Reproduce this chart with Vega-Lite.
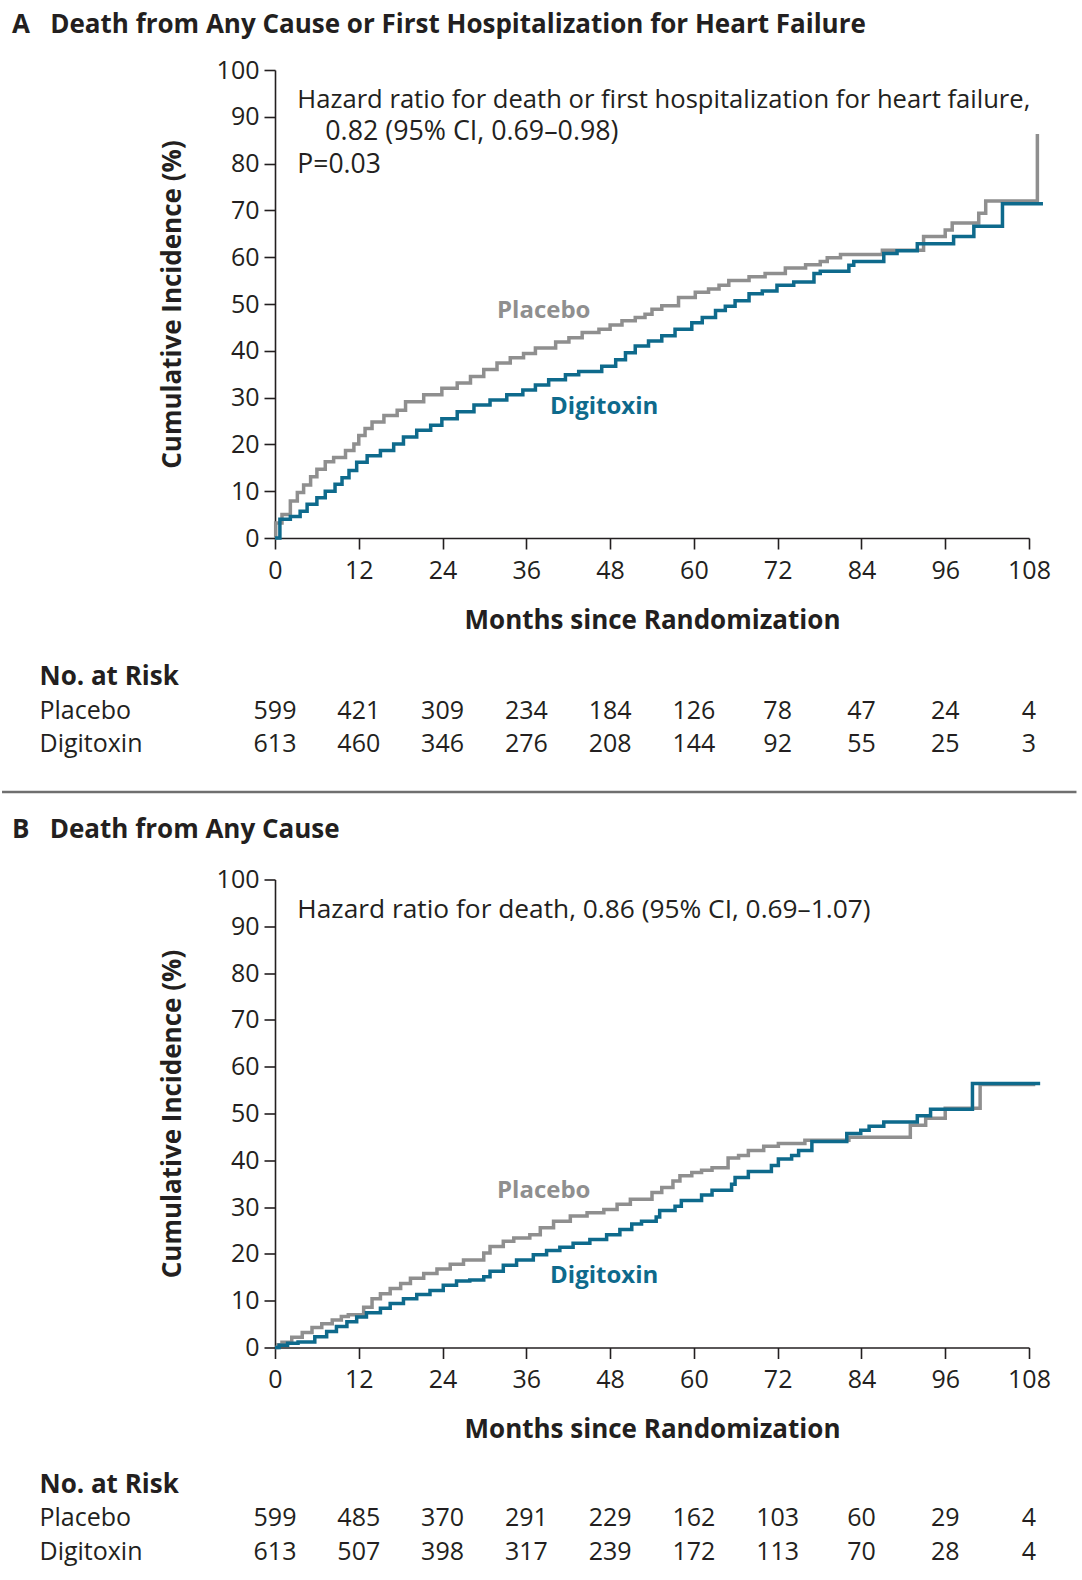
{
  "$schema": "https://vega.github.io/schema/vega-lite/v6.json",
  "background": "white",
  "padding": {"left": 0, "top": 12, "right": 5, "bottom": 0},
  "spacing": 7.75,
  "config": {
    "font": "Open Sans",
    "view": {"stroke": null},
    "axis": {
      "domainColor": "#231f20", "tickColor": "#231f20", "labelColor": "#231f20", "titleColor": "#231f20",
      "domainWidth": 1.6, "tickWidth": 1.6, "tickSize": 11, "grid": false,
      "labelFont": "Open Sans", "titleFont": "Open Sans", "labelFontSize": 25, "titleFontSize": 26, "titleFontWeight": "bold"
    },
    "title": {"font": "Open Sans"},
    "text": {"font": "Open Sans"}
  },
  "datasets": {
    "kmA": [
      {"group":"Placebo","month":0,"pct":0},{"group":"Placebo","month":0.1,"pct":3.2},{"group":"Placebo","month":1.0,"pct":5.0},{"group":"Placebo","month":2.2,"pct":7.9},{"group":"Placebo","month":3.2,"pct":9.7},{"group":"Placebo","month":4.1,"pct":11.3},{"group":"Placebo","month":5.1,"pct":13.1},{"group":"Placebo","month":6.0,"pct":14.7},{"group":"Placebo","month":7.2,"pct":16.3},{"group":"Placebo","month":8.4,"pct":17.2},{"group":"Placebo","month":10.1,"pct":18.7},{"group":"Placebo","month":11.3,"pct":20.1},{"group":"Placebo","month":12.0,"pct":21.9},{"group":"Placebo","month":12.9,"pct":23.4},{"group":"Placebo","month":13.9,"pct":24.8},{"group":"Placebo","month":15.6,"pct":26.2},{"group":"Placebo","month":17.5,"pct":27.3},{"group":"Placebo","month":18.7,"pct":29.1},{"group":"Placebo","month":21.3,"pct":30.6},{"group":"Placebo","month":23.9,"pct":32.0},{"group":"Placebo","month":26.1,"pct":33.1},{"group":"Placebo","month":28.0,"pct":34.5},{"group":"Placebo","month":29.9,"pct":36.0},{"group":"Placebo","month":31.8,"pct":37.4},{"group":"Placebo","month":33.7,"pct":38.5},{"group":"Placebo","month":35.6,"pct":39.4},{"group":"Placebo","month":37.3,"pct":40.6},{"group":"Placebo","month":40.2,"pct":41.9},{"group":"Placebo","month":42.1,"pct":42.8},{"group":"Placebo","month":44.0,"pct":43.9},{"group":"Placebo","month":46.4,"pct":44.6},{"group":"Placebo","month":48.0,"pct":45.5},{"group":"Placebo","month":49.7,"pct":46.4},{"group":"Placebo","month":51.6,"pct":47.1},{"group":"Placebo","month":53.0,"pct":47.8},{"group":"Placebo","month":54.0,"pct":48.9},{"group":"Placebo","month":55.4,"pct":49.6},{"group":"Placebo","month":57.8,"pct":51.4},{"group":"Placebo","month":60.2,"pct":52.5},{"group":"Placebo","month":62.1,"pct":53.2},{"group":"Placebo","month":63.6,"pct":54.0},{"group":"Placebo","month":65.0,"pct":55.0},{"group":"Placebo","month":67.9,"pct":55.8},{"group":"Placebo","month":70.2,"pct":56.5},{"group":"Placebo","month":73.1,"pct":57.7},{"group":"Placebo","month":76.0,"pct":58.4},{"group":"Placebo","month":78.1,"pct":59.1},{"group":"Placebo","month":79.1,"pct":59.9},{"group":"Placebo","month":81.0,"pct":60.6},{"group":"Placebo","month":87.0,"pct":61.5},{"group":"Placebo","month":92.9,"pct":64.4},{"group":"Placebo","month":96.0,"pct":65.8},{"group":"Placebo","month":97.0,"pct":67.3},{"group":"Placebo","month":100.8,"pct":69.4},{"group":"Placebo","month":101.8,"pct":72.0},{"group":"Placebo","month":109.2,"pct":86.3},
      {"group":"Digitoxin","month":0,"pct":0},{"group":"Digitoxin","month":0.7,"pct":4.0},{"group":"Digitoxin","month":2.2,"pct":4.6},{"group":"Digitoxin","month":3.6,"pct":5.7},{"group":"Digitoxin","month":4.6,"pct":7.2},{"group":"Digitoxin","month":6.0,"pct":8.6},{"group":"Digitoxin","month":7.2,"pct":10.0},{"group":"Digitoxin","month":8.6,"pct":11.5},{"group":"Digitoxin","month":9.6,"pct":12.9},{"group":"Digitoxin","month":10.6,"pct":14.4},{"group":"Digitoxin","month":11.7,"pct":16.2},{"group":"Digitoxin","month":13.2,"pct":17.6},{"group":"Digitoxin","month":15.1,"pct":18.7},{"group":"Digitoxin","month":17.0,"pct":20.1},{"group":"Digitoxin","month":18.4,"pct":21.6},{"group":"Digitoxin","month":20.3,"pct":23.0},{"group":"Digitoxin","month":22.3,"pct":24.1},{"group":"Digitoxin","month":23.9,"pct":25.5},{"group":"Digitoxin","month":26.1,"pct":27.0},{"group":"Digitoxin","month":28.5,"pct":28.4},{"group":"Digitoxin","month":30.8,"pct":29.5},{"group":"Digitoxin","month":33.2,"pct":30.6},{"group":"Digitoxin","month":35.5,"pct":31.6},{"group":"Digitoxin","month":37.3,"pct":32.7},{"group":"Digitoxin","month":39.2,"pct":33.8},{"group":"Digitoxin","month":41.6,"pct":34.9},{"group":"Digitoxin","month":43.5,"pct":35.6},{"group":"Digitoxin","month":46.8,"pct":36.7},{"group":"Digitoxin","month":48.8,"pct":38.1},{"group":"Digitoxin","month":50.2,"pct":39.6},{"group":"Digitoxin","month":51.6,"pct":41.0},{"group":"Digitoxin","month":53.5,"pct":42.1},{"group":"Digitoxin","month":55.4,"pct":43.2},{"group":"Digitoxin","month":57.3,"pct":44.6},{"group":"Digitoxin","month":59.7,"pct":46.0},{"group":"Digitoxin","month":61.2,"pct":47.1},{"group":"Digitoxin","month":63.1,"pct":48.6},{"group":"Digitoxin","month":64.5,"pct":49.5},{"group":"Digitoxin","month":65.9,"pct":50.7},{"group":"Digitoxin","month":67.9,"pct":52.2},{"group":"Digitoxin","month":69.8,"pct":52.8},{"group":"Digitoxin","month":71.9,"pct":54.0},{"group":"Digitoxin","month":74.3,"pct":54.7},{"group":"Digitoxin","month":77.2,"pct":56.5},{"group":"Digitoxin","month":78.1,"pct":57.0},{"group":"Digitoxin","month":82.2,"pct":58.3},{"group":"Digitoxin","month":82.9,"pct":59.1},{"group":"Digitoxin","month":87.2,"pct":60.8},{"group":"Digitoxin","month":89.1,"pct":61.4},{"group":"Digitoxin","month":92.0,"pct":62.9},{"group":"Digitoxin","month":97.2,"pct":64.4},{"group":"Digitoxin","month":100.1,"pct":66.6},{"group":"Digitoxin","month":104.2,"pct":71.4},{"group":"Digitoxin","month":110.0,"pct":71.4}
    ],
    "kmB": [
      {"group":"Placebo","month":0,"pct":0},{"group":"Placebo","month":0.4,"pct":0.6},{"group":"Placebo","month":1.0,"pct":1.1},{"group":"Placebo","month":2.4,"pct":2.2},{"group":"Placebo","month":3.9,"pct":3.2},{"group":"Placebo","month":5.3,"pct":4.3},{"group":"Placebo","month":6.7,"pct":5.1},{"group":"Placebo","month":8.2,"pct":5.9},{"group":"Placebo","month":9.5,"pct":6.6},{"group":"Placebo","month":10.5,"pct":7.0},{"group":"Placebo","month":12.7,"pct":8.6},{"group":"Placebo","month":13.9,"pct":10.4},{"group":"Placebo","month":15.1,"pct":11.5},{"group":"Placebo","month":16.5,"pct":12.6},{"group":"Placebo","month":18.0,"pct":13.7},{"group":"Placebo","month":19.4,"pct":14.8},{"group":"Placebo","month":21.3,"pct":15.8},{"group":"Placebo","month":23.2,"pct":16.8},{"group":"Placebo","month":25.1,"pct":17.8},{"group":"Placebo","month":27.0,"pct":18.7},{"group":"Placebo","month":29.9,"pct":20.2},{"group":"Placebo","month":30.8,"pct":21.6},{"group":"Placebo","month":32.7,"pct":22.7},{"group":"Placebo","month":34.2,"pct":23.4},{"group":"Placebo","month":36.5,"pct":24.1},{"group":"Placebo","month":38.0,"pct":25.6},{"group":"Placebo","month":39.9,"pct":27.0},{"group":"Placebo","month":42.3,"pct":28.1},{"group":"Placebo","month":44.7,"pct":28.8},{"group":"Placebo","month":47.1,"pct":29.5},{"group":"Placebo","month":49.0,"pct":30.6},{"group":"Placebo","month":50.9,"pct":31.7},{"group":"Placebo","month":54.0,"pct":33.1},{"group":"Placebo","month":55.4,"pct":34.2},{"group":"Placebo","month":57.0,"pct":35.6},{"group":"Placebo","month":58.0,"pct":36.7},{"group":"Placebo","month":59.7,"pct":37.4},{"group":"Placebo","month":61.1,"pct":37.9},{"group":"Placebo","month":62.6,"pct":38.4},{"group":"Placebo","month":64.9,"pct":40.5},{"group":"Placebo","month":66.4,"pct":41.0},{"group":"Placebo","month":67.8,"pct":42.1},{"group":"Placebo","month":70.0,"pct":43.0},{"group":"Placebo","month":72.1,"pct":43.6},{"group":"Placebo","month":75.9,"pct":44.3},{"group":"Placebo","month":82.2,"pct":44.9},{"group":"Placebo","month":91.0,"pct":47.5},{"group":"Placebo","month":93.2,"pct":49.0},{"group":"Placebo","month":96.0,"pct":51.1},{"group":"Placebo","month":101.0,"pct":56.2},{"group":"Placebo","month":108.9,"pct":56.2},
      {"group":"Digitoxin","month":0,"pct":0},{"group":"Digitoxin","month":0.6,"pct":0.5},{"group":"Digitoxin","month":1.8,"pct":0.9},{"group":"Digitoxin","month":3.3,"pct":1.2},{"group":"Digitoxin","month":5.7,"pct":2.3},{"group":"Digitoxin","month":7.4,"pct":3.4},{"group":"Digitoxin","month":8.8,"pct":4.5},{"group":"Digitoxin","month":10.3,"pct":5.5},{"group":"Digitoxin","month":11.7,"pct":6.5},{"group":"Digitoxin","month":13.1,"pct":7.4},{"group":"Digitoxin","month":15.1,"pct":8.4},{"group":"Digitoxin","month":16.5,"pct":9.4},{"group":"Digitoxin","month":18.4,"pct":10.4},{"group":"Digitoxin","month":20.3,"pct":11.3},{"group":"Digitoxin","month":22.2,"pct":12.2},{"group":"Digitoxin","month":24.1,"pct":13.3},{"group":"Digitoxin","month":26.0,"pct":14.2},{"group":"Digitoxin","month":27.9,"pct":14.4},{"group":"Digitoxin","month":29.9,"pct":15.1},{"group":"Digitoxin","month":30.8,"pct":16.3},{"group":"Digitoxin","month":32.7,"pct":17.6},{"group":"Digitoxin","month":34.6,"pct":18.7},{"group":"Digitoxin","month":37.0,"pct":19.8},{"group":"Digitoxin","month":38.9,"pct":20.7},{"group":"Digitoxin","month":40.8,"pct":21.4},{"group":"Digitoxin","month":42.7,"pct":22.3},{"group":"Digitoxin","month":45.1,"pct":23.1},{"group":"Digitoxin","month":47.5,"pct":24.1},{"group":"Digitoxin","month":49.4,"pct":25.2},{"group":"Digitoxin","month":51.1,"pct":26.4},{"group":"Digitoxin","month":52.5,"pct":27.0},{"group":"Digitoxin","month":54.6,"pct":27.9},{"group":"Digitoxin","month":55.1,"pct":29.3},{"group":"Digitoxin","month":57.3,"pct":30.2},{"group":"Digitoxin","month":58.2,"pct":31.4},{"group":"Digitoxin","month":61.1,"pct":32.6},{"group":"Digitoxin","month":62.6,"pct":33.6},{"group":"Digitoxin","month":65.4,"pct":34.9},{"group":"Digitoxin","month":65.9,"pct":36.3},{"group":"Digitoxin","month":67.8,"pct":37.6},{"group":"Digitoxin","month":71.1,"pct":38.9},{"group":"Digitoxin","month":72.1,"pct":40.3},{"group":"Digitoxin","month":74.0,"pct":41.0},{"group":"Digitoxin","month":75.0,"pct":42.1},{"group":"Digitoxin","month":76.9,"pct":44.0},{"group":"Digitoxin","month":81.9,"pct":45.7},{"group":"Digitoxin","month":83.9,"pct":46.4},{"group":"Digitoxin","month":85.1,"pct":47.3},{"group":"Digitoxin","month":87.2,"pct":48.2},{"group":"Digitoxin","month":92.0,"pct":49.5},{"group":"Digitoxin","month":93.9,"pct":50.9},{"group":"Digitoxin","month":99.9,"pct":56.4},{"group":"Digitoxin","month":109.6,"pct":56.4}
    ],
    "riskA": [
      {"row":"Placebo","month":0,"n":599},{"row":"Placebo","month":12,"n":421},{"row":"Placebo","month":24,"n":309},{"row":"Placebo","month":36,"n":234},{"row":"Placebo","month":48,"n":184},{"row":"Placebo","month":60,"n":126},{"row":"Placebo","month":72,"n":78},{"row":"Placebo","month":84,"n":47},{"row":"Placebo","month":96,"n":24},{"row":"Placebo","month":108,"n":4},
      {"row":"Digitoxin","month":0,"n":613},{"row":"Digitoxin","month":12,"n":460},{"row":"Digitoxin","month":24,"n":346},{"row":"Digitoxin","month":36,"n":276},{"row":"Digitoxin","month":48,"n":208},{"row":"Digitoxin","month":60,"n":144},{"row":"Digitoxin","month":72,"n":92},{"row":"Digitoxin","month":84,"n":55},{"row":"Digitoxin","month":96,"n":25},{"row":"Digitoxin","month":108,"n":3}
    ],
    "riskB": [
      {"row":"Placebo","month":0,"n":599},{"row":"Placebo","month":12,"n":485},{"row":"Placebo","month":24,"n":370},{"row":"Placebo","month":36,"n":291},{"row":"Placebo","month":48,"n":229},{"row":"Placebo","month":60,"n":162},{"row":"Placebo","month":72,"n":103},{"row":"Placebo","month":84,"n":60},{"row":"Placebo","month":96,"n":29},{"row":"Placebo","month":108,"n":4},
      {"row":"Digitoxin","month":0,"n":613},{"row":"Digitoxin","month":12,"n":507},{"row":"Digitoxin","month":24,"n":398},{"row":"Digitoxin","month":36,"n":317},{"row":"Digitoxin","month":48,"n":239},{"row":"Digitoxin","month":60,"n":172},{"row":"Digitoxin","month":72,"n":113},{"row":"Digitoxin","month":84,"n":70},{"row":"Digitoxin","month":96,"n":28},{"row":"Digitoxin","month":108,"n":4}
    ]
  },
  "vconcat": [
    {
      "width": 754, "height": 468,
      "title": {"text": "A\u00a0\u00a0\u00a0Death from Any Cause or First Hospitalization for Heart Failure", "anchor": "start", "frame": "group", "dx": -263, "offset": 20, "fontSize": 26, "fontWeight": "bold", "color": "#231f20"},
      "layer": [
        {
          "data": {"name": "kmA"},
          "mark": {"type": "line", "interpolate": "step-after", "strokeWidth": 3.5, "clip": false},
          "encoding": {
            "x": {"field": "month", "type": "quantitative", "scale": {"domain": [0, 108], "nice": false}, "axis": {"values": [0,12,24,36,48,60,72,84,96,108], "title": "Months since Randomization", "labelPadding": 9, "titlePadding": 24, "labelFlush": false, "labelOverlap": false}},
            "y": {"field": "pct", "type": "quantitative", "scale": {"domain": [0, 100], "nice": false}, "axis": {"values": [0,10,20,30,40,50,60,70,80,90,100], "title": "Cumulative Incidence (%)", "labelPadding": 5, "titlePadding": 31, "labelOverlap": false}},
            "color": {"field": "group", "type": "nominal", "scale": {"domain": ["Digitoxin", "Placebo"], "range": ["#0e6a8c", "#8f8f8f"]}, "legend": null}
          }
        },
        {"data": {"values": [{}]}, "mark": {"type": "text", "align": "left", "baseline": "alphabetic", "fontSize": 25.6, "color": "#231f20"}, "encoding": {"x": {"datum": 3.2}, "y": {"datum": 91.9}, "text": {"value": "Hazard ratio for death or first hospitalization for heart failure,"}}},
        {"data": {"values": [{}]}, "mark": {"type": "text", "align": "left", "baseline": "alphabetic", "fontSize": 26.8, "color": "#231f20"}, "encoding": {"x": {"datum": 7.2}, "y": {"datum": 85.0}, "text": {"value": "0.82 (95% CI, 0.69\u20130.98)"}}},
        {"data": {"values": [{}]}, "mark": {"type": "text", "align": "left", "baseline": "alphabetic", "fontSize": 26.5, "color": "#231f20"}, "encoding": {"x": {"datum": 3.2}, "y": {"datum": 77.9}, "text": {"value": "P=0.03"}}},
        {"data": {"values": [{}]}, "mark": {"type": "text", "align": "left", "baseline": "alphabetic", "fontSize": 24, "fontWeight": "bold", "color": "#8f8f8f"}, "encoding": {"x": {"datum": 31.8}, "y": {"datum": 47.0}, "text": {"value": "Placebo"}}},
        {"data": {"values": [{}]}, "mark": {"type": "text", "align": "left", "baseline": "alphabetic", "fontSize": 24, "fontWeight": "bold", "color": "#0e6a8c"}, "encoding": {"x": {"datum": 39.4}, "y": {"datum": 26.5}, "text": {"value": "Digitoxin"}}}
      ]
    },
    {
      "width": 754, "height": 167.5,
      "layer": [
        {
          "data": {"name": "riskA"},
          "mark": {"type": "text", "fontSize": 25, "color": "#231f20", "baseline": "alphabetic"},
          "encoding": {
            "x": {"field": "month", "type": "quantitative", "scale": {"domain": [0, 108], "nice": false}, "axis": null},
            "y": {"field": "row", "type": "ordinal", "scale": {"type": "band", "domain": ["No. at Risk", "Placebo", "Digitoxin"], "paddingInner": 0, "paddingOuter": 1, "align": 0.415}, "axis": {"title": null, "domain": false, "ticks": false, "tickSize": 0, "labelAlign": "left", "labelBaseline": "alphabetic", "labelPadding": 236, "labelFontSize": {"condition": {"test": "datum.value === 'No. at Risk'", "value": 26}, "value": 25}, "labelFontWeight": {"condition": {"test": "datum.value === 'No. at Risk'", "value": "bold"}, "value": "normal"}}},
            "text": {"field": "n", "type": "quantitative"}
          }
        },
        {"data": {"values": [{}]}, "mark": {"type": "rule", "color": "#6f6f6f", "strokeWidth": 2.4}, "encoding": {"x": {"datum": -39.1}, "x2": {"datum": 114.8}, "y": {"datum": 0.097, "type": "quantitative", "scale": {"domain": [0, 1]}, "axis": null}}}
      ],
      "resolve": {"scale": {"y": "independent"}}
    },
    {
      "width": 754, "height": 468,
      "title": {"text": "B\u00a0\u00a0\u00a0Death from Any Cause", "anchor": "start", "frame": "group", "dx": -263, "offset": 24.5, "fontSize": 26, "fontWeight": "bold", "color": "#231f20"},
      "layer": [
        {
          "data": {"name": "kmB"},
          "mark": {"type": "line", "interpolate": "step-after", "strokeWidth": 3.5, "clip": false},
          "encoding": {
            "x": {"field": "month", "type": "quantitative", "scale": {"domain": [0, 108], "nice": false}, "axis": {"values": [0,12,24,36,48,60,72,84,96,108], "title": "Months since Randomization", "labelPadding": 9, "titlePadding": 24, "labelFlush": false, "labelOverlap": false}},
            "y": {"field": "pct", "type": "quantitative", "scale": {"domain": [0, 100], "nice": false}, "axis": {"values": [0,10,20,30,40,50,60,70,80,90,100], "title": "Cumulative Incidence (%)", "labelPadding": 5, "titlePadding": 31, "labelOverlap": false}},
            "color": {"field": "group", "type": "nominal", "scale": {"domain": ["Digitoxin", "Placebo"], "range": ["#0e6a8c", "#8f8f8f"]}, "legend": null}
          }
        },
        {"data": {"values": [{}]}, "mark": {"type": "text", "align": "left", "baseline": "alphabetic", "fontSize": 26.3, "color": "#231f20"}, "encoding": {"x": {"datum": 3.2}, "y": {"datum": 91.7}, "text": {"value": "Hazard ratio for death, 0.86 (95% CI, 0.69\u20131.07)"}}},
        {"data": {"values": [{}]}, "mark": {"type": "text", "align": "left", "baseline": "alphabetic", "fontSize": 24, "fontWeight": "bold", "color": "#8f8f8f"}, "encoding": {"x": {"datum": 31.8}, "y": {"datum": 31.9}, "text": {"value": "Placebo"}}},
        {"data": {"values": [{}]}, "mark": {"type": "text", "align": "left", "baseline": "alphabetic", "fontSize": 24, "fontWeight": "bold", "color": "#0e6a8c"}, "encoding": {"x": {"datum": 39.4}, "y": {"datum": 13.8}, "text": {"value": "Digitoxin"}}}
      ]
    },
    {
      "width": 754, "height": 127.3,
      "data": {"name": "riskB"},
      "mark": {"type": "text", "fontSize": 25, "color": "#231f20", "baseline": "alphabetic"},
      "encoding": {
        "x": {"field": "month", "type": "quantitative", "scale": {"domain": [0, 108], "nice": false}, "axis": null},
        "y": {"field": "row", "type": "ordinal", "scale": {"type": "band", "domain": ["No. at Risk", "Placebo", "Digitoxin"], "paddingInner": 0, "paddingOuter": 0.4, "align": 0.955}, "axis": {"title": null, "domain": false, "ticks": false, "tickSize": 0, "labelAlign": "left", "labelBaseline": "alphabetic", "labelPadding": 236, "labelFontSize": {"condition": {"test": "datum.value === 'No. at Risk'", "value": 26}, "value": 25}, "labelFontWeight": {"condition": {"test": "datum.value === 'No. at Risk'", "value": "bold"}, "value": "normal"}}},
        "text": {"field": "n", "type": "quantitative"}
      }
    }
  ]
}
